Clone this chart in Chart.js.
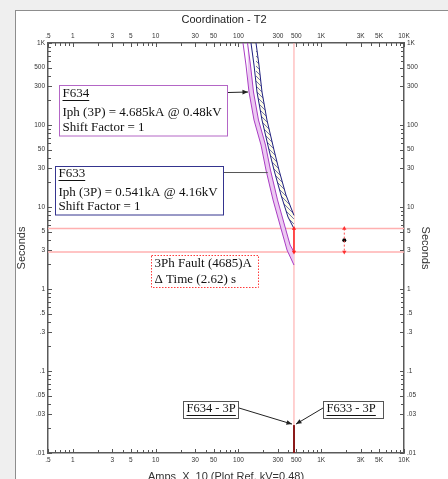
<!DOCTYPE html>
<html>
<head>
<meta charset="utf-8">
<script src="https://cdn.jsdelivr.net/npm/chart.js@4.4.0/dist/chart.umd.min.js"></script>
<style>
    html, body { margin: 0; padding: 0; overflow: hidden; background: #efefef; }
    #frame { position: absolute; left: 15px; top: 10px; width: 460px; height: 500px; background: #fff; border: 1px solid #8d8d8d; }
    #wrap { position: absolute; left: 0; top: 0; width: 448px; height: 500px; }
</style>
</head>
<body>
<div id="frame"></div>
<div id="wrap"><canvas id="tcc"></canvas></div>
<script>
// Axis labels
const ampTicks = [0.5, 1, 3, 5, 10, 30, 50, 100, 300, 500, 1000, 3000, 5000, 10000];
const secTicks = [0.01, 0.03, 0.05, 0.1, 0.3, 0.5, 1, 3, 5, 10, 30, 50, 100, 300, 500, 1000];

// F634 band (amps x10, seconds)
const f634MinAmps = [113.5, 123.3, 134.1, 154.1, 187.3, 215.2, 261.6, 317.7, 386, 468.5];
const f634MinSecs = [1000, 539, 252.6, 115, 57, 28.2, 12.2, 6.03, 2.99, 1.96];
const f634MaxAmps = [128.6, 139.7, 151.9, 174.6, 212.2, 243.8, 296.4, 360, 420.8, 468.5];
const f634MaxSecs = [1000, 539, 252.6, 115, 57, 28.2, 12.2, 6.03, 3.44, 2.83];

// F633 band
const f633MinAmps = [141.8, 154.1, 167.5, 192.5, 233.9, 268.9, 326.6, 396.8, 468.5];
const f633MinSecs = [1000, 539, 252.6, 115, 49.6, 28.2, 14.0, 7.55, 5.45];
const f633MaxAmps = [163, 177, 192.5, 221, 268.8, 309, 375, 468.5];
const f633MaxSecs = [1000, 539, 252.6, 115, 49.6, 28.2, 14.0, 7.9];

// fault + delta time
const faultAmps = 468.5;
const deltaSecs = [5.45, 2.83];
const deltaAmps = 1900;
const deltaMid = 3.93;
const fault3pSecs = 0.0219;

const pts = (xs, ys) => xs.map((x, i) => ({ x: x, y: ys[i] }));

function fmt(v) {
    if (v >= 1000) return (v / 1000) + 'K';
    if (v < 1) return String(v).replace(/^0/, '');
    return String(v);
}

function minorValues(min, max) {
    const vals = [];
    for (let e = -3; e <= 4; e++) {
        for (let m = 1; m <= 9; m++) {
            const v = +(m * Math.pow(10, e)).toPrecision(3);
            if (v >= min && v <= max) vals.push(v);
        }
    }
    return vals;
}

const hatchFill = (() => {
    const c = document.createElement('canvas');
    c.width = 5; c.height = 5;
    const g = c.getContext('2d');
    g.fillStyle = '#fdfde6';
    g.fillRect(0, 0, 5, 5);
    g.strokeStyle = '#3a3a96';
    g.lineWidth = 0.7;
    g.beginPath();
    g.moveTo(-1, -1); g.lineTo(6, 6);
    g.stroke();
    return g.createPattern(c, 'repeat');
})();

// little inward tick marks on all four sides
const inwardTicks = {
    id: 'inwardTicks',
    afterDraw(chart) {
        const { ctx, chartArea: a, scales } = chart;
        ctx.save();
        ctx.strokeStyle = '#555';
        ctx.lineWidth = 1;
        ctx.beginPath();
        minorValues(0.5, 10000).forEach(v => {
            const len = ampTicks.includes(v) ? 4 : 3;
            const p = Math.round(scales.x.getPixelForValue(v)) + 0.5;
            ctx.moveTo(p, a.bottom); ctx.lineTo(p, a.bottom - len);
            ctx.moveTo(p, a.top); ctx.lineTo(p, a.top + len);
        });
        minorValues(0.01, 1000).forEach(v => {
            const len = secTicks.includes(v) ? 4 : 3;
            const p = Math.round(scales.y.getPixelForValue(v)) + 0.5;
            ctx.moveTo(a.left, p); ctx.lineTo(a.left + len, p);
            ctx.moveTo(a.right, p); ctx.lineTo(a.right - len, p);
        });
        ctx.stroke();
        ctx.restore();
    }
};

// text boxes and arrows
const serif = '"Liberation Serif", "Times New Roman", serif';
const notes = [
    { box: [59.5, 85.5, 168, 50.5], border: '#b466c6', dash: [], size: 13,
      lines: ['F634', 'Iph (3P) = 4.685kA @ 0.48kV', 'Shift Factor = 1'], dy: [8, 27, 42.5], under: true },
    { box: [55.5, 166.5, 168, 48.5], border: '#34348e', dash: [], size: 13,
      lines: ['F633', 'Iph (3P) = 0.541kA @ 4.16kV', 'Shift Factor = 1'], dy: [7.5, 26.5, 40.5], under: true },
    { box: [151.5, 255.5, 107, 32], border: '#ff3b3b', dash: [1.5, 1.5], size: 13,
      lines: ['3Ph Fault (4685)A', '\u0394 Time (2.62) s'], dy: [8, 24], under: false },
    { box: [183.5, 401.5, 55, 17], border: '#555', dash: [], size: 12.5,
      lines: ['F634 - 3P'], dy: [7.5], under: true },
    { box: [323.5, 401.5, 60, 17], border: '#555', dash: [], size: 12.5,
      lines: ['F633 - 3P'], dy: [7.5], under: true }
];

const annotate = {
    id: 'annotate',
    afterDraw(chart) {
        const { ctx, scales } = chart;
        const px = (a, s) => [scales.x.getPixelForValue(a), scales.y.getPixelForValue(s)];
        const arrow = (x1, y1, x2, y2, head) => {
            ctx.beginPath(); ctx.moveTo(x1, y1); ctx.lineTo(x2, y2); ctx.stroke();
            if (!head) return;
            const ang = Math.atan2(y2 - y1, x2 - x1);
            ctx.beginPath();
            ctx.moveTo(x2, y2);
            ctx.lineTo(x2 - 6 * Math.cos(ang - 0.4), y2 - 6 * Math.sin(ang - 0.4));
            ctx.lineTo(x2 - 6 * Math.cos(ang + 0.4), y2 - 6 * Math.sin(ang + 0.4));
            ctx.closePath(); ctx.fill();
        };
        ctx.save();
        ctx.strokeStyle = '#222'; ctx.fillStyle = '#222'; ctx.lineWidth = 1;
        let t = px(134.1, 252.6);
        arrow(228, 92.5, t[0] - 1, t[1], true);
        ctx.strokeStyle = '#555';
        t = px(226, 26.3);
        arrow(224, 172.5, t[0], t[1], false);
        ctx.strokeStyle = '#222';
        t = px(faultAmps, fault3pSecs);
        arrow(239, 408, t[0] - 2, t[1] - 1, true);
        arrow(323, 408, t[0] + 2, t[1] - 1, true);

        notes.forEach(n => {
            const [x, y, w, h] = n.box;
            ctx.fillStyle = '#fff';
            ctx.fillRect(x, y, w, h);
            ctx.setLineDash(n.dash);
            ctx.strokeStyle = n.border;
            ctx.strokeRect(x, y, w, h);
            ctx.setLineDash([]);
            ctx.fillStyle = '#111';
            ctx.font = n.size + 'px ' + serif;
            ctx.textBaseline = 'middle';
            ctx.textAlign = 'left';
            n.lines.forEach((s, i) => {
                const ty = y + n.dy[i];
                ctx.fillText(s, x + 3, ty);
                if (n.under && i === 0) {
                    const w2 = ctx.measureText(s).width;
                    ctx.strokeStyle = '#111';
                    ctx.beginPath();
                    ctx.moveTo(x + 3, Math.round(ty + 6) + 0.5);
                    ctx.lineTo(x + 3 + w2, Math.round(ty + 6) + 0.5);
                    ctx.stroke();
                }
            });
        });
        ctx.restore();
    }
};

const tickFont = { family: '"Liberation Sans", Arial, sans-serif', size: 6.5 };
const titleFont = { family: '"Liberation Sans", Arial, sans-serif', size: 11, lineHeight: 1.2 };

function logAxis(position, min, max, labels, fit, title, titlePad) {
    return {
        type: 'logarithmic',
        position: position,
        min: min,
        max: max,
        bounds: 'data',
        grid: { display: false, drawTicks: false },
        border: { display: true, color: '#5a5a5a', width: 1.5 },
        afterBuildTicks: s => { s.ticks = labels.map(v => ({ value: v })); },
        afterFit: fit,
        ticks: {
            autoSkip: false,
            maxRotation: 0,
            minRotation: 0,
            padding: 3,
            color: '#333',
            font: tickFont,
            callback: v => fmt(v)
        },
        title: {
            display: !!title,
            text: title || '',
            color: '#333',
            font: titleFont,
            padding: titlePad
        }
    };
}

const line = (data, color, width, extra) => Object.assign({
    data: data,
    borderColor: color,
    borderWidth: width,
    pointRadius: 0,
    fill: false,
    tension: 0
}, extra || {});

new Chart(document.getElementById('tcc'), {
    type: 'line',
    data: {
        datasets: [
            line(pts([faultAmps, faultAmps], deltaSecs), '#ff2020', 1.5, {
                pointRadius: 2.5, pointStyle: 'triangle', pointRotation: [0, 180],
                pointBackgroundColor: '#ff2020', pointBorderColor: '#ff2020', pointBorderWidth: 0
            }),
            line(pts([deltaAmps, deltaAmps], deltaSecs), '#ff5050', 1, {
                borderDash: [2, 2],
                pointRadius: 2.5, pointStyle: 'triangle', pointRotation: [0, 180],
                pointBackgroundColor: '#ff3030', pointBorderColor: '#ff3030', pointBorderWidth: 0
            }),
            line(pts([deltaAmps], [deltaMid]), '#000', 0, {
                showLine: false, pointRadius: 2, pointBackgroundColor: '#000', pointBorderWidth: 0
            }),
            line(pts([faultAmps, faultAmps], [0.01, fault3pSecs]), '#8b1a1a', 2),
            line(pts(f633MinAmps, f633MinSecs), '#1f1f80', 1),
            line(pts(f633MaxAmps, f633MaxSecs), '#1f1f80', 1, { fill: '-1', backgroundColor: hatchFill }),
            line(pts(f634MinAmps, f634MinSecs), '#a93cc4', 1),
            line(pts(f634MaxAmps, f634MaxSecs), '#a93cc4', 1, { fill: '-1', backgroundColor: '#ecc9f2' }),
            line(pts([faultAmps, faultAmps], [0.01, 1000]), '#ffa3a3', 1),
            line(pts([0.5, 10000], [deltaSecs[0], deltaSecs[0]]), '#ffb0b0', 1.5),
            line(pts([0.5, 10000], [deltaSecs[1], deltaSecs[1]]), '#ffb0b0', 1.5)
        ]
    },
    options: {
        responsive: true,
        maintainAspectRatio: false,
        animation: false,
        layout: { padding: 0 },
        scales: {
            x: logAxis('bottom', 0.5, 10000, ampTicks, s => { s.height = 47; },
                'Amps  X  10 (Plot Ref. kV=0.48)', { top: 0, bottom: 16.9 }),
            x2: logAxis('top', 0.5, 10000, ampTicks, s => { s.height = 16.4; }, null, 0),
            y: logAxis('left', 0.01, 1000, secTicks, s => { s.width = 48; },
                'Seconds', { top: 15.4, bottom: 0 }),
            y2: logAxis('right', 0.01, 1000, secTicks, s => { s.width = 44; },
                'Seconds', { top: 16.4, bottom: 0 })
        },
        plugins: {
            legend: { display: false },
            tooltip: { enabled: false },
            title: {
                display: true,
                text: 'Coordination - T2',
                color: '#222',
                font: { family: '"Liberation Sans", Arial, sans-serif', size: 11, weight: 'normal', lineHeight: 1.2 },
                padding: { top: 13.4, bottom: 0 }
            }
        }
    },
    plugins: [inwardTicks, annotate]
});
</script>
</body>
</html>
